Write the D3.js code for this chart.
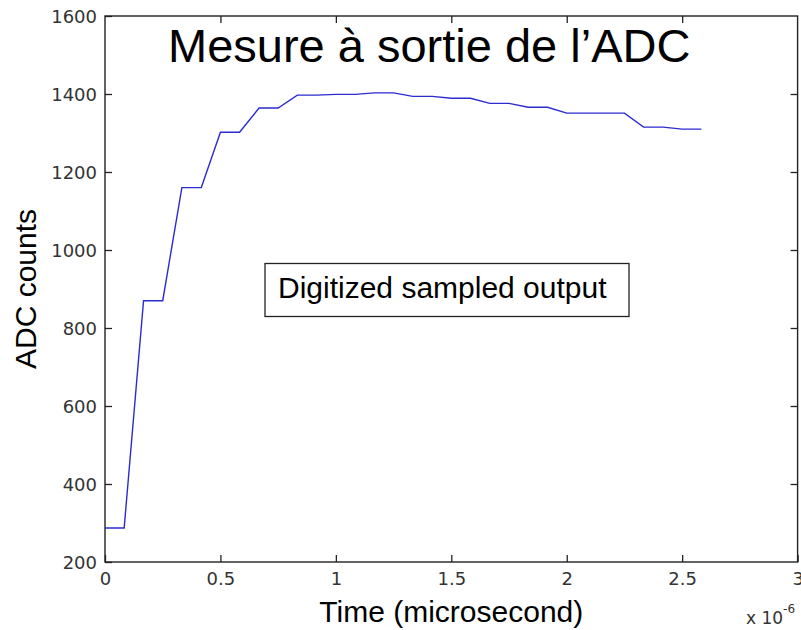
<!DOCTYPE html>
<html>
<head>
<meta charset="utf-8">
<script src="https://cdn.jsdelivr.net/npm/d3@7"></script>
<style>
  body { margin: 0; background: #fff; }
  svg { display: block; }
</style>
</head>
<body>
<script>
// Data: ADC samples (time in microseconds, i.e. x 10^-6 s)
let timeUs = [0, 0.083, 0.167, 0.25, 0.333, 0.417, 0.5, 0.583,
  0.667, 0.75, 0.833, 0.917, 1.0, 1.083, 1.167, 1.25,
  1.333, 1.417, 1.5, 1.583, 1.667, 1.75, 1.833, 1.917,
  2.0, 2.083, 2.167, 2.25, 2.333, 2.417, 2.5, 2.583];
let adcCounts = [287, 287, 870, 870, 1160, 1160, 1302, 1302,
  1364, 1364, 1397, 1397, 1399, 1399, 1403, 1403,
  1394, 1394, 1389, 1389, 1376, 1376, 1366, 1366,
  1351, 1351, 1351, 1351, 1315, 1315, 1310, 1310];

let xTicks = [0, 0.5, 1, 1.5, 2, 2.5, 3];
let yTicks = [200, 400, 600, 800, 1000, 1200, 1400, 1600];

let titleText = "Mesure à sortie de l’ADC";
let noteText = "Digitized sampled output";
let xLabel = "Time (microsecond)";
let yLabel = "ADC counts";

// Layout
let width = 801, height = 630;
let plotLeft = 105, plotRight = 797.6, plotTop = 16, plotBottom = 562;

let svg = d3.select("body").append("svg")
  .attr("width", width)
  .attr("height", height);

let x = d3.scaleLinear().domain([0, 3]).range([plotLeft, plotRight]);
let y = d3.scaleLinear().domain([200, 1600]).range([plotBottom, plotTop]);

// Axes, MATLAB style: ticks pointing inward on all four sides
let tickFont = "'DejaVu Sans', sans-serif";

let xAxis = svg.append("g")
  .attr("transform", `translate(0,${plotBottom})`)
  .call(d3.axisBottom(x).tickValues(xTicks).tickFormat(d3.format("~g"))
    .tickSizeInner(-7).tickSizeOuter(0).tickPadding(10));

let yAxis = svg.append("g")
  .attr("transform", `translate(${plotLeft},0)`)
  .call(d3.axisLeft(y).tickValues(yTicks).tickFormat(d3.format("d"))
    .tickSizeInner(-7).tickSizeOuter(0).tickPadding(8));

svg.append("g")
  .attr("transform", `translate(0,${plotTop})`)
  .call(d3.axisTop(x).tickValues(xTicks.slice(1, -1)).tickFormat("")
    .tickSizeInner(-7).tickSizeOuter(0));

svg.append("g")
  .attr("transform", `translate(${plotRight},0)`)
  .call(d3.axisRight(y).tickValues(yTicks.slice(1, -1)).tickFormat("")
    .tickSizeInner(-7).tickSizeOuter(0));

svg.selectAll(".domain").remove();
svg.selectAll(".tick line").attr("stroke", "#222").attr("stroke-width", 1.3);

xAxis.selectAll("text")
  .attr("font-family", tickFont).attr("font-size", 18).attr("fill", "#333");
yAxis.selectAll("text")
  .attr("font-family", tickFont).attr("font-size", 18).attr("fill", "#333")
  .attr("dy", "0.36em");

// Frame
svg.append("rect")
  .attr("x", plotLeft).attr("y", plotTop)
  .attr("width", plotRight - plotLeft).attr("height", plotBottom - plotTop)
  .attr("fill", "none")
  .attr("stroke", "#222")
  .attr("stroke-width", 1.4);

// Data line
let points = timeUs.map((t, i) => [t, adcCounts[i]]);
let line = d3.line()
  .x(d => x(d[0]))
  .y(d => y(d[1]));

svg.append("path")
  .datum(points)
  .attr("fill", "none")
  .attr("stroke", "#2b2bd0")
  .attr("stroke-width", 1.4)
  .attr("d", line);

// Title inside plot
svg.append("text")
  .attr("x", 168)
  .attr("y", 62)
  .attr("font-family", "'Liberation Sans', Arial, sans-serif")
  .attr("font-size", 47)
  .attr("fill", "#000")
  .text(titleText);

// Annotation box
let note = svg.append("g");
note.append("rect")
  .attr("x", 265).attr("y", 263.5)
  .attr("width", 364).attr("height", 53)
  .attr("fill", "#fff")
  .attr("stroke", "#222")
  .attr("stroke-width", 1.3);
note.append("text")
  .attr("x", 278)
  .attr("y", 298)
  .attr("font-family", "'Liberation Sans', Arial, sans-serif")
  .attr("font-size", 30)
  .attr("fill", "#000")
  .text(noteText);

// Axis labels
svg.append("text")
  .attr("x", (plotLeft + plotRight) / 2)
  .attr("y", 622)
  .attr("text-anchor", "middle")
  .attr("font-family", "'Liberation Sans', Arial, sans-serif")
  .attr("font-size", 30)
  .text(xLabel);

svg.append("text")
  .attr("transform", `translate(36,${(plotTop + plotBottom) / 2}) rotate(-90)`)
  .attr("text-anchor", "middle")
  .attr("font-family", "'Liberation Sans', Arial, sans-serif")
  .attr("font-size", 30)
  .text(yLabel);

// Exponent multiplier
let mult = svg.append("text")
  .attr("x", 746)
  .attr("y", 624)
  .attr("font-family", tickFont)
  .attr("font-size", 17)
  .attr("fill", "#333");
mult.append("tspan").text("x 10");
mult.append("tspan")
  .attr("dy", -11)
  .attr("font-size", 12)
  .text("-6");
</script>
</body>
</html>
